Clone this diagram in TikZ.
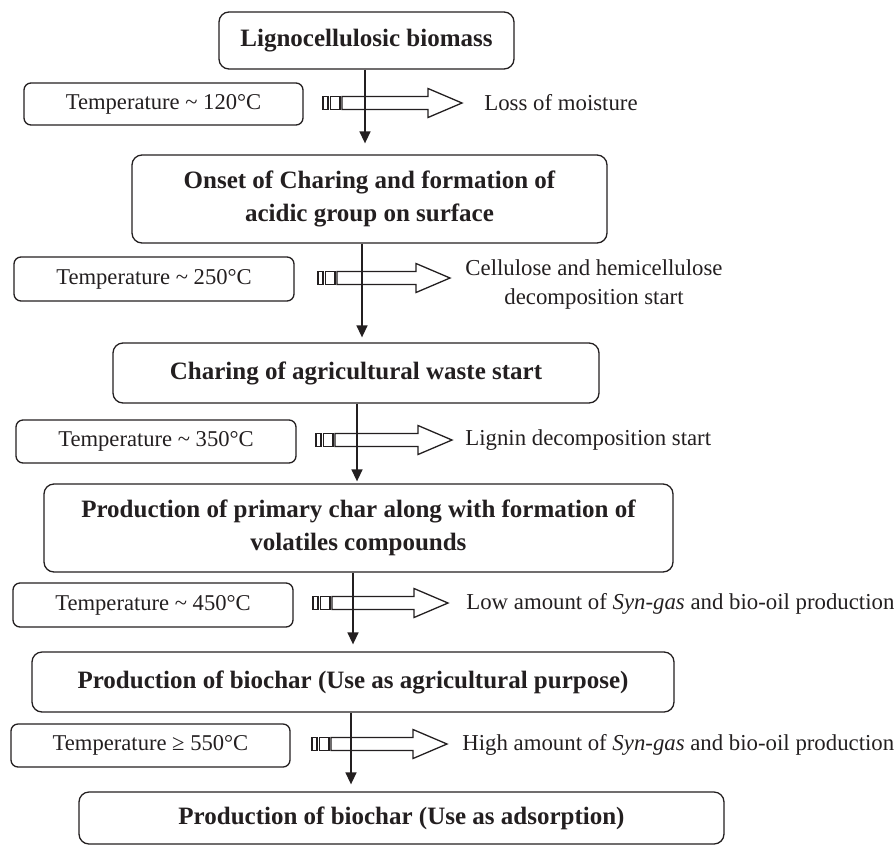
\documentclass[tikz,border=0pt]{standalone}
\usepackage{fontspec}
\setmainfont{Liberation Serif}
\usetikzlibrary{arrows.meta}
\definecolor{ink}{HTML}{231F20}

% Heat-input marker: two small bars and a hollow block arrow.
% #1 = left x, #2 = centre y, #3 = x of the arrow tip
\newcommand{\heatflow}[3]{%
  \draw[flowline] (#1,#2-6.5) rectangle (#1+5,#2+6.5);
  \draw[flowline] (#1+7.5,#2-6.5) rectangle (#1+17,#2+6.5);
  \draw[flowline,fill=white] (#1+19,#2-6.5) -- (#3-34,#2-6.5) -- (#3-34,#2-14.5)
    -- (#3,#2) -- (#3-34,#2+14.5) -- (#3-34,#2+6.5) -- (#1+19,#2+6.5) -- cycle;}

\begin{document}
\begin{tikzpicture}[x=0.5pt,y=-0.5pt,
  every node/.style={text=ink},
  stagebox/.style={draw=ink, line width=0.65pt, rounded corners=5pt, align=center,
    inner sep=0pt, font=\fontsize{12.5}{16.5}\selectfont\bfseries},
  tempbox/.style={draw=ink, line width=0.65pt, rounded corners=3.5pt, inner sep=0pt,
    font=\fontsize{11.3}{14}\selectfont},
  effect/.style={inner sep=0pt, align=center, font=\fontsize{11.4}{14.5}\selectfont},
  vline/.style={draw=ink, line width=0.75pt, -{Triangle[length=6pt,width=5.5pt]}},
  flowline/.style={draw=ink, line width=0.65pt}]

\useasboundingbox (0,0) rectangle (894,847);

% process stages
\node[stagebox, minimum width=147.5pt, minimum height=28.5pt] (B1) at (366.5,40.5)
  {Lignocellulosic biomass};
\node[stagebox, minimum width=237.5pt, minimum height=44pt] (B2) at (369.5,199)
  {Onset of Charing and formation of\\acidic group on surface};
\node[stagebox, minimum width=243pt, minimum height=30pt] (B3) at (356,373)
  {Charing of agricultural waste start};
\node[stagebox, minimum width=314.5pt, minimum height=44pt] (B4) at (358.5,528)
  {Production of primary char along with formation of\\volatiles compounds};
\node[stagebox, minimum width=321pt, minimum height=30pt] (B5) at (353,682)
  {Production of biochar (Use as agricultural purpose)};
\node[stagebox, minimum width=322.5pt, minimum height=26pt] (B6) at (401.5,818)
  {Production of biochar (Use as adsorption)};

% temperatures
\node[tempbox, minimum width=139.5pt, minimum height=21pt] (T1) at (163.5,104)
  {Temperature \textasciitilde{} 120°C};
\node[tempbox, minimum width=140pt, minimum height=22pt] (T2) at (154,279)
  {Temperature \textasciitilde{} 250°C};
\node[tempbox, minimum width=140pt, minimum height=21.5pt] (T3) at (156,441.5)
  {Temperature \textasciitilde{} 350°C};
\node[tempbox, minimum width=140pt, minimum height=22pt] (T4) at (153,605)
  {Temperature \textasciitilde{} 450°C};
\node[tempbox, minimum width=139.5pt, minimum height=21.5pt] (T5) at (150.5,745.5)
  {Temperature ≥ 550°C};

% what happens at each temperature
\node[effect, anchor=west] (E1) at (484,103) {Loss of moisture};
\node[effect] (E2) at (594,285) {Cellulose and hemicellulose\\decomposition start};
\node[effect, anchor=west] (E3) at (465,440) {Lignin decomposition start};
\node[effect, anchor=west] (E4) at (466,604)
  {Low amount of \textit{Syn-gas} and bio-oil production};
\node[effect, anchor=west] (E5) at (462,745)
  {High amount of \textit{Syn-gas} and bio-oil production};

% heat-input arrows
\heatflow{323}{103}{462}
\heatflow{318}{278}{450}
\heatflow{316}{440}{452}
\heatflow{313}{603}{448}
\heatflow{312}{744}{447}

% main flow
\coordinate (x1) at (365,0);
\coordinate (x2) at (362,0);
\coordinate (x3) at (357,0);
\coordinate (x4) at (353,0);
\coordinate (x5) at (351,0);
\draw[vline, shorten >=5.5pt] (B1.south -| x1) -- (B2.north -| x1);
\draw[vline, shorten >=2.5pt] (B2.south -| x2) -- (B3.north -| x2);
\draw[vline, shorten >=1pt] (B3.south -| x3) -- (B4.north -| x3);
\draw[vline, shorten >=3.5pt] (B4.south -| x4) -- (B5.north -| x4);
\draw[vline, shorten >=3.5pt] (B5.south -| x5) -- (B6.north -| x5);

\end{tikzpicture}
\end{document}
